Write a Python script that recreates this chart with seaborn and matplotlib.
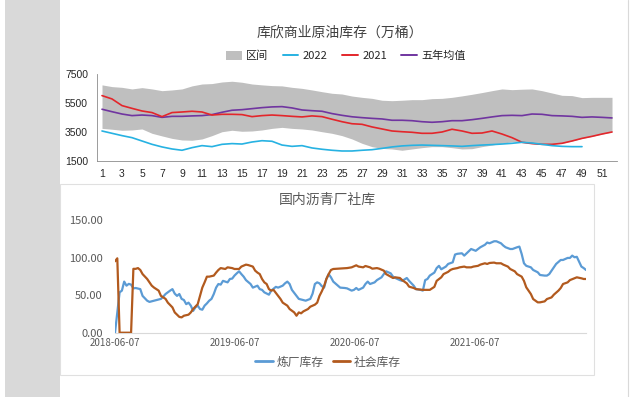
import numpy as np
import pandas as pd
import matplotlib
matplotlib.use("Agg")
import matplotlib.pyplot as plt
import matplotlib.dates as mdates
from matplotlib.patches import Patch, Rectangle
from matplotlib.lines import Line2D
import seaborn as sns

# ---------------- data: top chart (Cushing commercial crude stocks, 10k bbl) ----------------
weeks = list(range(1, 53))
band_upper = [6750, 6630, 6580, 6470, 6560, 6470, 6350, 6400, 6470, 6680, 6810, 6840, 6950,
              7000, 6930, 6810, 6750, 6700, 6680, 6580, 6510, 6400, 6280, 6170, 6120, 5980,
              5890, 5820, 5690, 5660, 5690, 5730, 5730, 5800, 5820, 5890, 5990, 6100, 6220,
              6350, 6470, 6420, 6450, 6470, 6350, 6190, 6030, 6010, 5870, 5890, 5890, 5890]
band_lower = [3750, 3690, 3620, 3640, 3710, 3410, 3230, 3060, 2950, 2930, 3020, 3250, 3520,
              3620, 3550, 3570, 3640, 3750, 3820, 3750, 3710, 3640, 3520, 3410, 3250, 3020,
              2720, 2490, 2370, 2330, 2240, 2330, 2420, 2490, 2490, 2420, 2330, 2350, 2490,
              2600, 2720, 2830, 2790, 2700, 2650, 2650, 2720, 2880, 3060, 3200, 3360, 3500]
y2021 = [6010, 5780, 5320, 5130, 4950, 4840, 4560, 4840, 4880, 4930, 4880, 4670, 4720,
         4720, 4700, 4560, 4630, 4670, 4630, 4580, 4540, 4610, 4560, 4380, 4210, 4070,
         4030, 3850, 3710, 3570, 3520, 3480, 3410, 3410, 3500, 3690, 3570, 3410, 3430,
         3570, 3360, 3110, 2790, 2700, 2650, 2650, 2720, 2880, 3060, 3200, 3360, 3500]
avg5 = [5070, 4900, 4740, 4630, 4670, 4630, 4510, 4580, 4580, 4610, 4630, 4700, 4860,
        5000, 5040, 5110, 5180, 5230, 5250, 5160, 5020, 4970, 4930, 4770, 4650, 4550,
        4490, 4440, 4400, 4310, 4310, 4280, 4210, 4170, 4210, 4280, 4280, 4350, 4440,
        4540, 4630, 4650, 4630, 4740, 4720, 4630, 4610, 4580, 4510, 4540, 4510, 4470]
weeks2022 = list(range(1, 50))
y2022 = [3570, 3410, 3250, 3110, 2880, 2650, 2470, 2330, 2240, 2420, 2560, 2490, 2650,
         2700, 2670, 2810, 2900, 2860, 2600, 2510, 2560, 2400, 2310, 2240, 2190, 2190,
         2240, 2280, 2370, 2470, 2540, 2580, 2600, 2580, 2560, 2540, 2510, 2560, 2600,
         2630, 2670, 2720, 2790, 2740, 2650, 2560, 2510, 2490, 2490]
top_ticks = list(range(1, 53, 2))
top_yticks = [1500, 3500, 5500, 7500]

# ---------------- data: bottom chart (asphalt refinery / social inventory) ----------------
start_date = "2018-06-07"
refinery_wk = [0, 2, 3, 4, 5, 6, 7, 8, 9, 11, 12, 14, 15, 17, 18, 20, 21, 22, 24, 25, 26, 27, 28,
               29, 30, 31, 32, 33, 34, 35, 36, 37, 38, 39, 40, 41, 42, 43, 44, 45, 46, 47, 49,
               50, 51, 52, 53, 54, 55, 56, 57, 59, 60, 62, 63, 64, 65, 67, 68, 70, 71, 73, 74,
               75, 76, 77, 79, 80, 82, 83, 85, 86, 87, 88, 89, 90, 91, 92, 93, 94, 95, 97, 98,
               100, 101, 103, 104, 105, 106, 108, 109, 110, 111, 113, 114, 116, 117, 118, 120,
               121, 122, 124, 125, 127, 128, 130, 131, 133, 134, 135, 136, 137, 139, 140, 141,
               142, 144, 145, 147, 148, 149, 151, 152, 154, 155, 157, 158, 159, 161, 162, 163,
               165, 166, 168, 169, 170, 172, 173, 175, 176, 177, 178, 179, 181, 182, 184, 185,
               187, 188, 189, 191, 192, 194, 195, 197, 198, 199, 200, 201, 203, 204, 205]
refinery = [0, 53.7, 56, 68, 62.6, 65, 64, 59, 59.5, 58, 49, 42.6, 41, 42.6, 43.5, 45, 48, 51.5,
            56, 58, 52, 49, 51.5, 45, 43.5, 38, 40, 36, 29, 33.7, 36, 31.5, 30.6, 36, 39, 42.6,
            45, 51.5, 60, 64.8, 64, 69, 67, 71.5, 72, 76, 79, 81.7, 78, 74.6, 70, 64.8, 60,
            62.6, 58, 57, 53.7, 50.6, 56, 61, 60, 62.6, 65.7, 68, 64.8, 57, 49, 45, 43.5, 42.6,
            45, 52, 64.8, 67, 65.7, 62, 60, 71.5, 78, 73.7, 68, 62.6, 60, 59.5, 59, 56, 57,
            59.5, 57, 60, 64.8, 68, 64.8, 67, 70, 73.7, 78, 81.7, 79, 74.6, 72.8, 70, 69, 72.8,
            69, 62.6, 58, 57, 56, 70, 71.5, 76, 80, 86, 89, 84.4, 88, 91.5, 93.7, 104, 105,
            105.7, 102.6, 108.4, 111.4, 109, 111.4, 113.7, 117, 120, 119, 121.7, 121.7, 119,
            116, 113.7, 111.4, 111.4, 113.7, 114.6, 104.8, 92.4, 89, 87, 83.5, 80.4, 76.8, 76,
            76, 78, 87, 91.5, 96.8, 96.8, 99.5, 99.5, 102.6, 100.4, 101, 88, 86, 83.5]
social_wk = [0, 1, 2, 7, 8, 9, 10, 11, 12, 14, 15, 16, 17, 19, 20, 22, 23, 25, 26, 28, 29, 30,
             32, 33, 34, 36, 37, 38, 39, 40, 41, 43, 44, 45, 46, 48, 49, 51, 52, 54, 55, 57, 58,
             60, 61, 62, 63, 64, 65, 66, 67, 68, 69, 70, 71, 72, 73, 75, 76, 78, 79, 80, 81, 82,
             84, 85, 87, 88, 89, 90, 91, 92, 93, 94, 95, 97, 99, 101, 103, 105, 106, 108, 109,
             111, 112, 114, 115, 117, 118, 120, 121, 122, 124, 125, 127, 128, 130, 131, 134,
             136, 137, 139, 140, 142, 143, 145, 146, 147, 149, 150, 152, 153, 155, 156, 158,
             159, 161, 162, 163, 165, 166, 168, 169, 171, 172, 174, 175, 177, 178, 179, 181,
             182, 184, 185, 187, 188, 190, 191, 193, 194, 195, 197, 198, 200, 201, 203, 204, 205]
social = [95, 99, 0, 0, 85, 85, 86, 83.5, 78, 71.5, 67, 62.6, 60, 56, 49, 45, 40, 33.7, 27, 21,
          20.4, 22.6, 24, 27, 31.5, 38, 49, 60, 67, 74.6, 74.6, 76, 80, 83.5, 86, 84.8, 87, 86,
          84.8, 84.8, 88, 90.6, 90, 88, 82.6, 80, 78, 71.5, 67, 64.8, 58, 56, 57, 53, 49, 45,
          40, 36, 31.5, 27, 22.6, 27, 25.8, 28.4, 31.5, 34.6, 37.3, 40, 49, 55, 62, 71.5, 78,
          83.5, 84.8, 85.2, 85.7, 86, 87, 89.7, 88, 87, 88.8, 87, 85.2, 86, 85.2, 82.6, 78,
          74.6, 72.8, 73.7, 72.8, 70, 65.7, 61.3, 59.5, 58, 57, 57, 57, 61, 69, 73.7, 78, 81,
          83.5, 84.8, 86, 87, 88, 87, 87, 88, 89, 90.6, 92.4, 91.5, 92.8, 93.3, 92.4, 92.4,
          90.6, 88, 84.8, 81.7, 78, 74.6, 69, 60.4, 51.5, 44.8, 40.4, 40.4, 41.7, 44.8, 47,
          50.6, 56, 59.5, 64.8, 67, 70, 72.4, 73.7, 72.4, 71.5, 71.5]
bottom_xtick_labels = ["2018-06-07", "2019-06-07", "2020-06-07", "2021-06-07"]
bottom_yticks = [0, 50, 100, 150]

# ---------------- styling ----------------
sns.set_theme(style="white")
plt.rcParams["font.family"] = ["Noto Sans CJK SC", "DejaVu Sans"]
plt.rcParams["axes.unicode_minus"] = False

W, H = 638, 397
fig = plt.figure(figsize=(W / 100, H / 100), dpi=100, facecolor="white")

# page decorations
fig.patches.append(Rectangle((5 / W, 0), 55 / W, 1, transform=fig.transFigure,
                             facecolor="#d9d9d9", edgecolor="none", zorder=0))
fig.add_artist(Line2D([628 / W, 628 / W], [0, 1], transform=fig.transFigure,
                      color="#d9d9d9", lw=0.8))
fig.patches.append(Rectangle((60 / W, 1 - 375 / H), 534 / W, 191 / H, transform=fig.transFigure,
                             facecolor="none", edgecolor="#e0e0e0", lw=0.8, zorder=1))

C_BAND, C_22, C_21, C_AVG = "#bfbfbf", "#27b2e2", "#e3262b", "#7035a0"
C_REF, C_SOC = "#5b9bd5", "#b25a1e"
NUMFONT = ["Liberation Sans", "DejaVu Sans"]

# ---------------- top chart ----------------
ax1 = fig.add_axes([97 / W, 1 - 161 / H, 520 / W, 87 / H])
ax1.set_facecolor("white")
ax1.fill_between(weeks, band_lower, band_upper, color=C_BAND, lw=0, zorder=1)
sns.lineplot(x=weeks, y=avg5, ax=ax1, color=C_AVG, lw=1.2, zorder=3)
sns.lineplot(x=weeks, y=y2021, ax=ax1, color=C_21, lw=1.2, zorder=4)
sns.lineplot(x=weeks2022, y=y2022, ax=ax1, color=C_22, lw=1.2, zorder=5)
ax1.set_xlim(0.5, 52.5)
ax1.set_ylim(1500, 7500)
ax1.set_xticks(top_ticks)
ax1.set_xticklabels([str(t) for t in top_ticks], fontfamily=NUMFONT, fontsize=7.5, color="#262626")
ax1.set_xticks(np.arange(0.5, 53, 1.0), minor=True)
ax1.set_yticks(top_yticks)
ax1.set_yticklabels([str(t) for t in top_yticks], fontfamily=NUMFONT, fontsize=7.5, color="#262626")
ax1.tick_params(axis="x", which="major", length=0, pad=6)
ax1.tick_params(axis="x", which="minor", length=2.5, width=0.6, color="#8c8c8c", direction="out")
ax1.tick_params(axis="y", which="major", length=2.5, width=0.6, color="#8c8c8c", pad=4, direction="out")
ax1.set_xlabel("")
ax1.set_ylabel("")
for s in ["top", "right"]:
    ax1.spines[s].set_visible(False)
for s in ["left", "bottom"]:
    ax1.spines[s].set_color("#8c8c8c")
    ax1.spines[s].set_linewidth(0.6)
ax1.grid(False)

fig.text(340 / W, 1 - 33 / H, "库欣商业原油库存（万桶）", ha="center", va="center",
         fontsize=10, color="#404040")
top_handles = [Patch(facecolor=C_BAND, edgecolor="none", label="区间"),
               Line2D([], [], color=C_22, lw=1.4, label="2022"),
               Line2D([], [], color=C_21, lw=1.4, label="2021"),
               Line2D([], [], color=C_AVG, lw=1.4, label="五年均值")]
leg1 = fig.legend(handles=top_handles, loc="center", bbox_to_anchor=(346 / W, 1 - 56 / H),
                  ncol=4, frameon=False, fontsize=8, handlelength=1.4, handleheight=0.8,
                  columnspacing=1.3, handletextpad=0.4)
for t in leg1.get_texts():
    t.set_color("#262626")

# ---------------- bottom chart ----------------
t0 = pd.Timestamp(start_date)
ref_dates = t0 + pd.to_timedelta(np.array(refinery_wk) * 7, unit="D")
soc_dates = t0 + pd.to_timedelta(np.array(social_wk) * 7, unit="D")

ax2 = fig.add_axes([115 / W, 1 - 332.7 / H, 471 / W, 112.7 / H])
ax2.set_facecolor("white")
sns.lineplot(x=ref_dates, y=refinery, ax=ax2, color=C_REF, lw=1.6, zorder=3)
sns.lineplot(x=soc_dates, y=social, ax=ax2, color=C_SOC, lw=1.6, zorder=4)
ax2.set_xlim(t0, t0 + pd.Timedelta(days=7 * max(refinery_wk[-1], social_wk[-1])))
ax2.set_ylim(0, 150)
ax2.set_yticks(bottom_yticks)
ax2.set_yticklabels([f"{v:.2f}" for v in bottom_yticks], fontsize=8, color="#595959")
ax2.set_xticks([pd.Timestamp(d) for d in bottom_xtick_labels])
ax2.set_xticklabels(bottom_xtick_labels, fontsize=7, color="#595959")
ax2.tick_params(axis="y", length=0, pad=9)
ax2.tick_params(axis="x", length=0, pad=4)
ax2.set_xlabel("")
ax2.set_ylabel("")
for s in ["top", "right", "left"]:
    ax2.spines[s].set_visible(False)
ax2.spines["bottom"].set_color("#d9d9d9")
ax2.spines["bottom"].set_linewidth(0.8)
ax2.grid(False)

fig.text(327 / W, 1 - 200 / H, "国内沥青厂社库", ha="center", va="center",
         fontsize=10, color="#595959")
bot_handles = [Line2D([], [], color=C_REF, lw=2.0, label="炼厂库存"),
               Line2D([], [], color=C_SOC, lw=2.0, label="社会库存")]
leg2 = fig.legend(handles=bot_handles, loc="center", bbox_to_anchor=(328 / W, 1 - 362 / H),
                  ncol=2, frameon=False, fontsize=8.5, handlelength=1.5,
                  columnspacing=0.8, handletextpad=0.3)
for t in leg2.get_texts():
    t.set_color("#595959")

fig.savefig("out.png", dpi=100, facecolor="white")
